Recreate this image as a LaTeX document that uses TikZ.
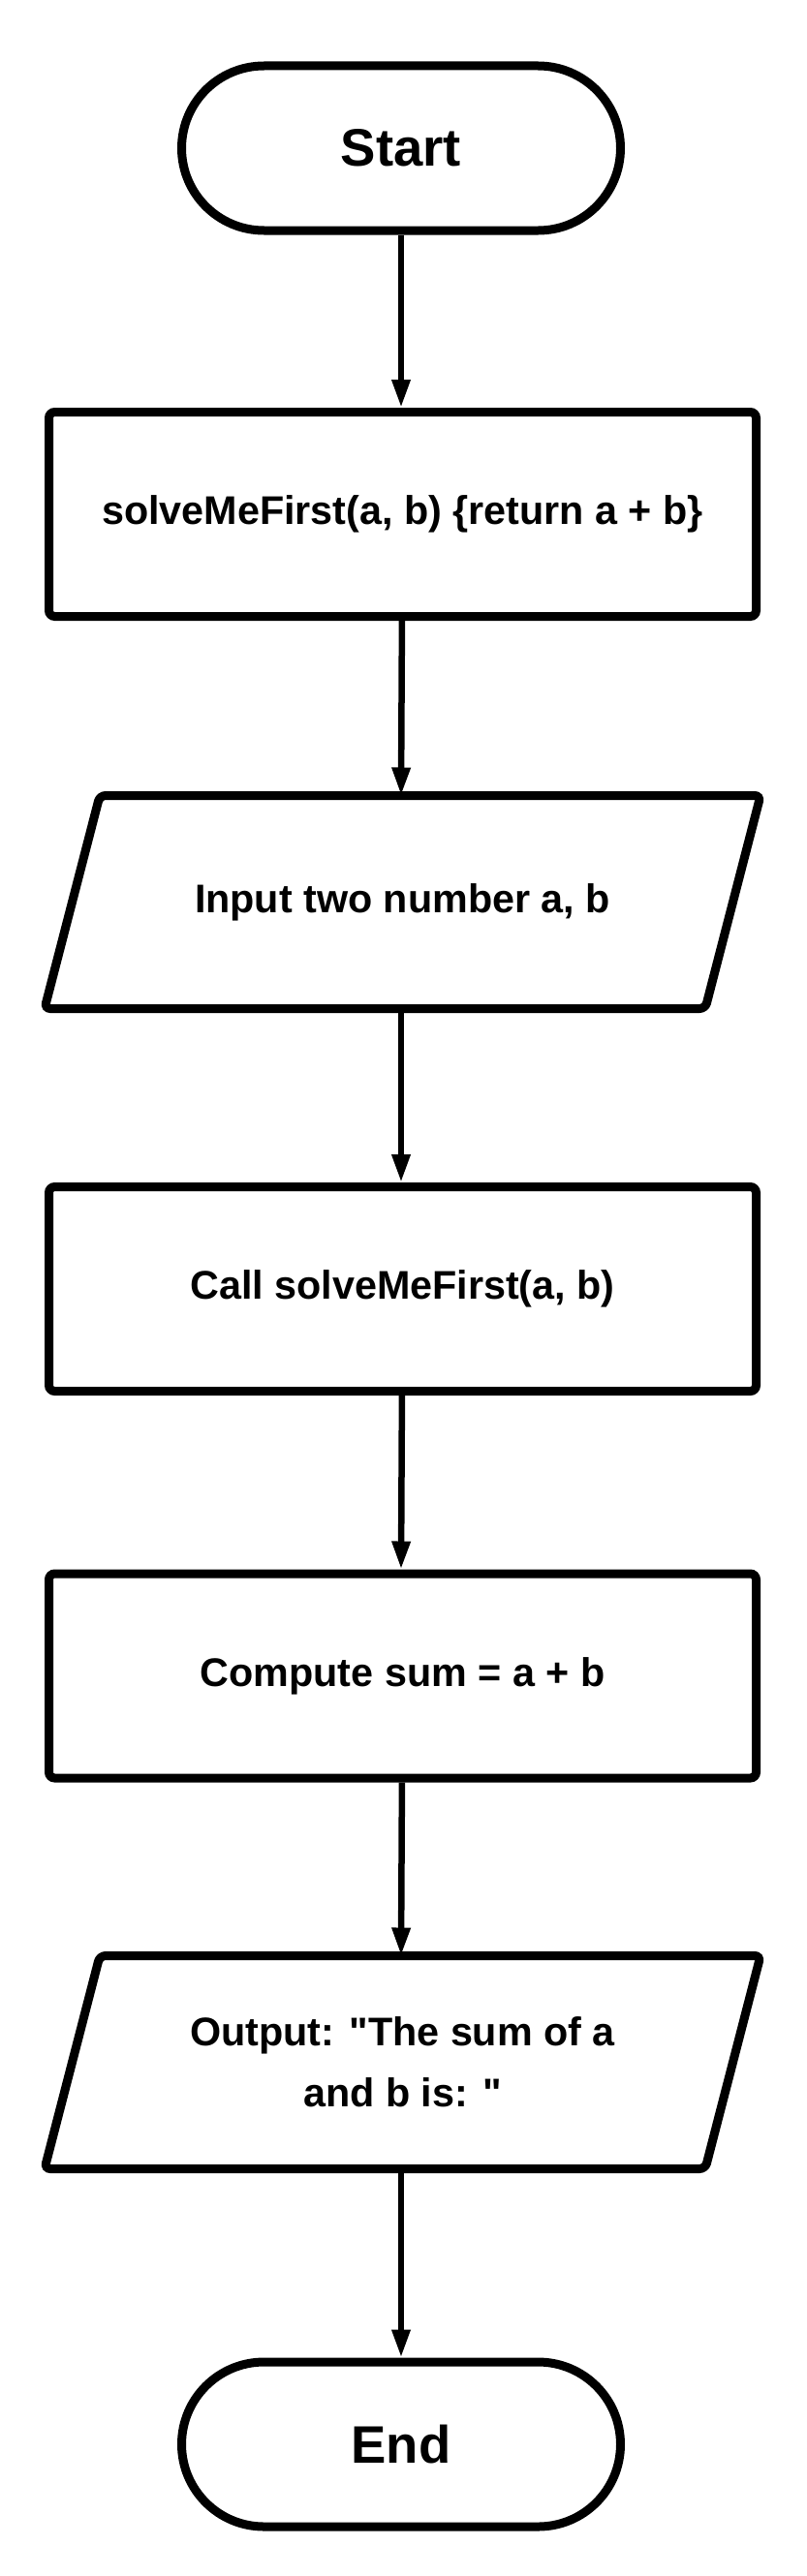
\documentclass[tikz,border=0pt]{standalone}
\usepackage{fontspec}
\setmainfont{Liberation Sans}
\usetikzlibrary{arrows.meta, positioning, shapes.geometric}

\begin{document}
\begin{tikzpicture}[
    every node/.style={font=\bfseries\fontsize{23.5}{36}\selectfont, align=center},
    term/.style={rectangle, rounded corners=1.7cm, draw, line width=0.18cm, minimum width=9.06cm, minimum height=3.4cm, font=\bfseries\fontsize{31}{36}\selectfont},
    procbox/.style={rectangle, rounded corners=0.12cm, draw, line width=0.18cm, minimum width=14.6cm, minimum height=4.22cm},
    iobox/.style={rectangle, outer sep=0.09cm, minimum width=14.6cm, minimum height=4.22cm},
    ioline/.style={line width=0.18cm, rounded corners=0.12cm},
    arr/.style={-{Triangle[length=0.58cm, width=0.36cm]}, line width=0.13cm}
]
\fill[white] (0,0) rectangle (16.66,-53.2);
\useasboundingbox (0,0) rectangle (16.66,-53.2);

\node[term] (start) at (8.28, -3.06) {Start};
\node[procbox] (def) at (8.31, -10.62) {solveMeFirst(a, b) \{return a + b\}};
\node[iobox] (input) at (8.31, -18.63) {Input two number a, b};
\node[procbox] (call) at (8.31, -26.62) {Call solveMeFirst(a, b)};
\node[procbox] (sum) at (8.31, -34.61) {Compute sum = a + b};
\node[iobox] (output) at (8.31, -42.59) {Output: \textquotedbl The sum of a\\ and b is: \textquotedbl};
\node[term] (stop) at (8.28, -50.48) {End};

% slanted outline of the input/output boxes
\foreach \n in {input, output}
    \draw[ioline] ([xshift=1.14cm]\n.north west) -- (\n.north east) -- ([xshift=-1.14cm]\n.south east) -- (\n.south west) -- cycle;

\draw[arr] (start) -- (start |- def.north);
\draw[arr] (def) -- (start |- input.north);
\draw[arr] (start |- input.south) -- (start |- call.north);
\draw[arr] (call) -- (start |- sum.north);
\draw[arr] (sum) -- (start |- output.north);
\draw[arr] (start |- output.south) -- (stop);
\end{tikzpicture}
\end{document}
